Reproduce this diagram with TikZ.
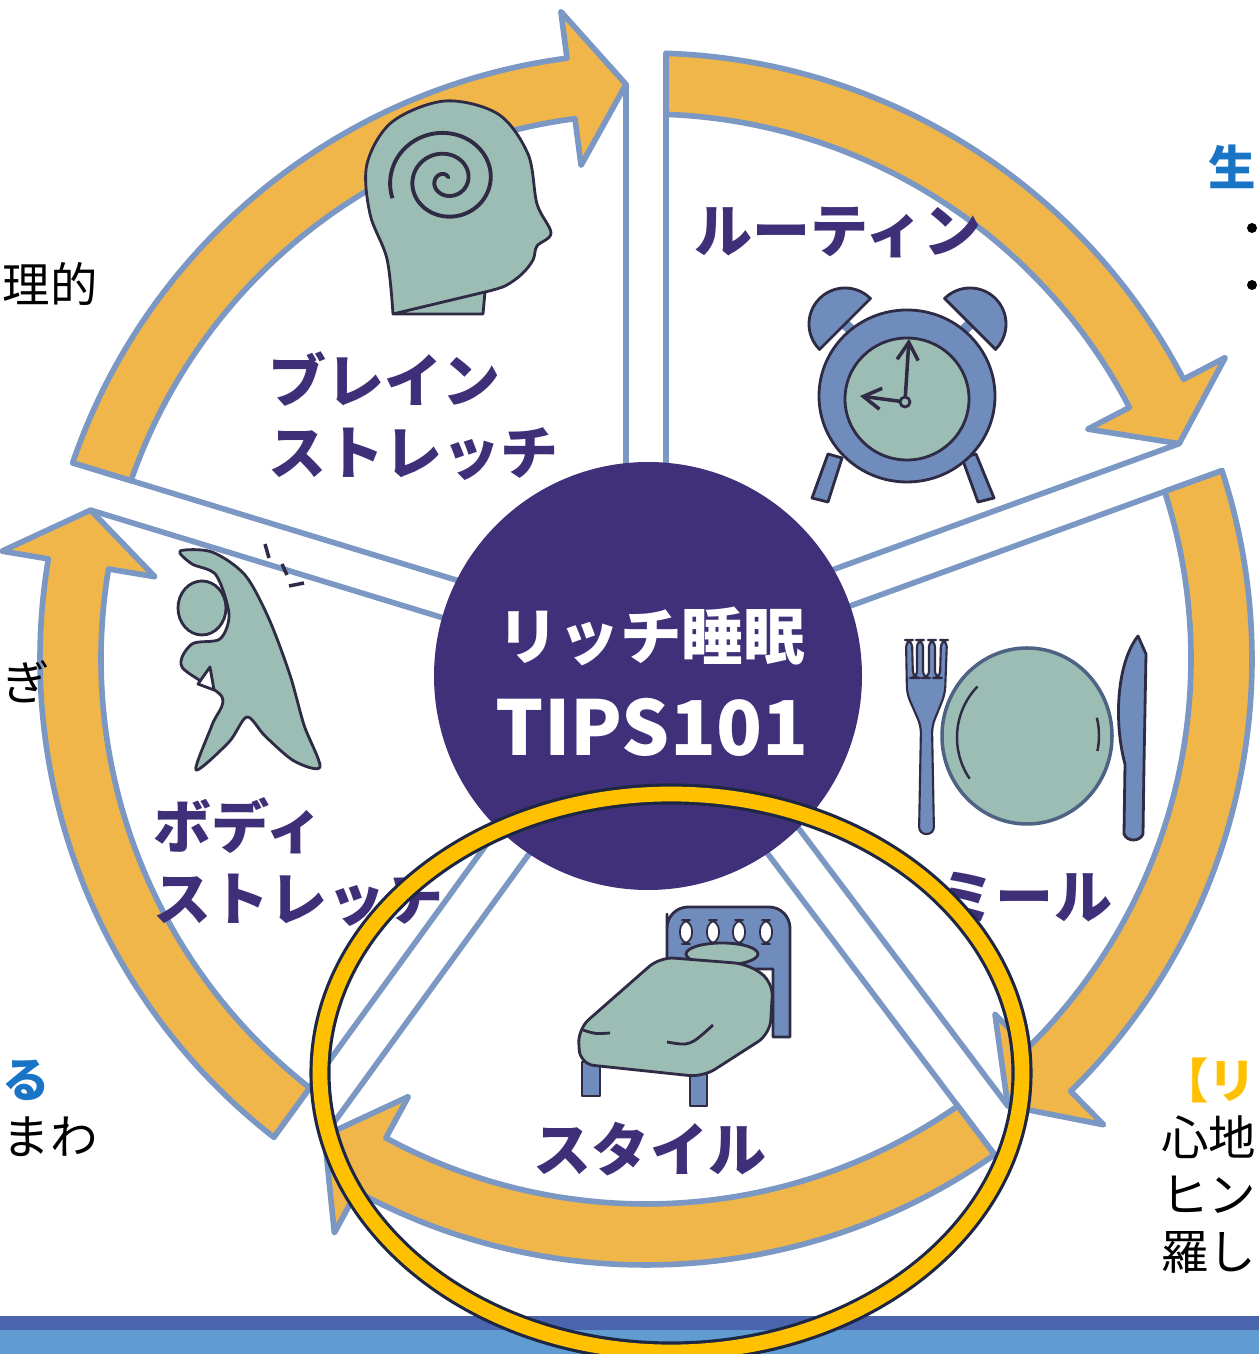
\documentclass[tikz,border=0pt]{standalone}
\usepackage{fontspec}
\newfontfamily\jp{Noto Sans CJK JP}
\usetikzlibrary{arrows.meta}

\definecolor{bandorange}{HTML}{F1B64A}
\definecolor{rimblue}{HTML}{7A98C3}
\definecolor{labelpurple}{HTML}{3E2F78}
\definecolor{hubpurple}{HTML}{40307A}
\definecolor{iconteal}{HTML}{9CBDB3}
\definecolor{iconblue}{HTML}{6F8CBD}
\definecolor{inkline}{HTML}{2F2B45}
\definecolor{ringyellow}{HTML}{FFC000}
\definecolor{ringnavy}{HTML}{1D2744}
\definecolor{textblue}{HTML}{1A74C6}
\definecolor{bardark}{HTML}{4A65AD}
\definecolor{barlight}{HTML}{609CD2}

\tikzset{
    spoke/.style={draw=rimblue, line width=1.6pt, line cap=round},
    band/.style={fill=bandorange, draw=rimblue, line width=1.6pt, line join=round},
    ink/.style={draw=inkline, line width=0.8pt, line join=round},
    segtext/.style={font=\jp\bfseries\fontsize{16.5}{20.5}\selectfont, text=labelpurple, inner sep=0pt, align=left},
    hubtext/.style={font=\jp\bfseries, text=white, inner sep=0pt},
    sidetext/.style={font=\jp\fontsize{13.5}{16}\selectfont, inner sep=0pt},
    sidehead/.style={font=\jp\bfseries\fontsize{13.5}{16}\selectfont, inner sep=0pt},
    ring/.style={draw=ringnavy, line width=0.9pt, double=ringyellow, double distance=4.2pt},
}

\begin{document}
\begin{tikzpicture}[x=0.01cm, y=0.01cm]
    \def\gap{20}
    \def\ri{545}
    \def\ro{606}
    \def\rmid{575}
    \def\hl{5.5}
    \path[use as bounding box, fill=white] (0,0) rectangle (1259,1354);
    \clip (0,0) rectangle (1259,1354);

    % wheel: five wedges, each with its arrow along the rim
    \begin{scope}[shift={(646,695)}]
      \foreach \a/\b in {163/90, 90/20, 20/-53, -53/-126, -126/-197} {
        \pgfmathsetmacro\ta{\a-asin(\gap/\ro)}
        \pgfmathsetmacro\tai{\a-asin(\gap/\ri)}
        \pgfmathsetmacro\tip{\b+asin(\gap/\rmid)}
        \pgfmathsetmacro\hb{\tip+\hl}
        \draw[spoke] ({\a-asin(\gap/150)}:150) -- (\ta:\ro);
        \draw[spoke] ({\b+asin(\gap/150)}:150) -- (\tip:\rmid);
        \filldraw[band] (\ta:\ro) arc[start angle=\ta, end angle=\hb, radius=\ro]
          -- (\hb:{\ro+47}) -- (\tip:\rmid) -- (\hb:{\ri-47}) -- (\hb:\ri)
          arc[start angle=\hb, end angle=\tai, radius=\ri] -- cycle;
      }
    \end{scope}

    % hub
    \fill[hubpurple] (648,678) circle[radius=214];
    \node[hubtext, font=\jp\bfseries\fontsize{17.5}{20}\selectfont] (hubtop) at (651,718) {リッチ睡眠};
    \node[hubtext, font=\jp\bfseries\fontsize{21.5}{24}\selectfont] (hubbottom) at (652,627) {TIPS101};

    % head with spiral
    \filldraw[ink, fill=iconteal] (393,1040) -- (483,1040) -- (485,1062)
      plot[smooth, tension=0.55] coordinates {(485,1062) (505,1068) (522,1080) (533,1094) (537,1108) (551,1121) (537,1150) (528,1200) (498,1240) (445,1253) (392,1232) (367,1190) (370,1140) (387,1095) (393,1040)} -- cycle;
    \draw[inkline, line width=1.1pt] plot[domain=40:920, samples=120, smooth] ({446+0.062*\x*cos(\x)}, {1174+0.058*\x*sin(\x)});
    \node[segtext, anchor=west] (brain) at (268,938) {ブレイン\\ストレッチ};

    % alarm clock
    \filldraw[ink, fill=iconblue] (828,900) -- (842,896) -- (828,852) -- (812,856) -- cycle;
    \filldraw[ink, fill=iconblue] (962,896) -- (976,900) -- (994,856) -- (978,852) -- cycle;
    \draw[iconblue, line width=3pt] (845,1030) -- (858,1017) (970,1030) -- (957,1017);
    \begin{scope}[shift={(845,1030)}, rotate=45]
      \filldraw[ink, fill=iconblue] (-36,0) arc[start angle=180, end angle=0, radius=36] -- cycle;
    \end{scope}
    \begin{scope}[shift={(970,1030)}, rotate=-45]
      \filldraw[ink, fill=iconblue] (-36,0) arc[start angle=180, end angle=0, radius=36] -- cycle;
    \end{scope}
    \filldraw[ink, fill=iconblue] (907,958) ellipse[x radius=88, y radius=86];
    \filldraw[ink, fill=iconteal] (907,955) ellipse[x radius=62, y radius=61];
    \draw[inkline, line width=1pt, -{Straight Barb[length=5pt, width=6pt]}] (905,952) -- (909,1015);
    \draw[inkline, line width=1pt, -{Straight Barb[length=5pt, width=6pt]}] (905,952) -- (860,958);
    \filldraw[ink, fill=iconteal] (905,952) circle[radius=5];
    \node[segtext] (routine) at (838,1121) {ルーティン};

    % fork, plate and knife
    \filldraw[ink, line width=0.6pt, fill=iconblue, rounded corners=2] (919,520) -- (921,628) -- (907,660) -- (906,714) -- (912,714) -- (913,676) -- (917,676) -- (917,714) -- (923,714) -- (923,676) -- (929,676) -- (929,714) -- (935,714) -- (935,676) -- (940,676) -- (941,714) -- (947,714) -- (945,660) -- (932,628) -- (934,520) -- cycle;
    \filldraw[draw=iconblue!70!black, line width=1pt, fill=iconteal] (1027,618) ellipse[x radius=85, y radius=88];
    \draw[inkline, line width=0.7pt] (1027,618) ++(135:70) arc[start angle=135, end angle=215, x radius=70, y radius=72];
    \draw[inkline, line width=0.7pt] (1027,618) ++(-12:72) arc[start angle=-12, end angle=14, x radius=72, y radius=74];
    \filldraw[ink, fill=iconblue] (1124,520) -- (1125,590) .. controls (1114,630) and (1116,690) .. (1138,718) -- (1146,700) -- (1144,590) -- (1143,520) .. controls (1140,512) and (1127,512) .. (1124,520) -- cycle;
    \node[segtext] (meal) at (1025,457) {ミール};

    % bed
    \filldraw[ink, fill=iconblue] (582,258) rectangle (600,292);
    \filldraw[ink, fill=iconblue] (690,248) rectangle (707,280);
    \filldraw[ink, fill=iconblue] (667,385) -- (667,440) [rounded corners=6] -- (667,447) -- (790,447) [sharp corners] -- (790,317) -- (773,317) -- (773,385) -- cycle;
    \foreach \sx in {680,707,733,760}
      \filldraw[draw=inkline, line width=0.5pt, fill=white, rounded corners=3] (\sx,410) rectangle (\sx+12,434);
    \filldraw[ink, fill=iconteal] (722,400) ellipse[x radius=36, y radius=11];
    \filldraw[ink, fill=iconteal, rounded corners=4] (660,397) -- (748,390) -- (773,372) -- (770,320) -- (703,277) -- (580,290) -- (578,325) -- cycle;
    \draw[inkline, line width=0.8pt] (583,324) .. controls (595,320) .. (610,321);
    \draw[inkline, line width=0.8pt] (667,312) .. controls (690,308) .. (713,329);
    \node[segtext] (style) at (650,205) {スタイル};

    % stretching figure
    \filldraw[ink, fill=iconteal] plot[smooth cycle, tension=0.5] coordinates {(180,803) (212,802) (245,779) (269,735) (290,679) (304,629) (320,587) (294,593) (265,618) (247,637) (229,612) (196,584) (212,629) (222,657) (182,687) (192,710) (220,715) (229,740) (216,779) (192,790)};
    \filldraw[ink, fill=iconteal] (202,746) ellipse[x radius=24, y radius=27];
    \filldraw[ink, fill=white] (198,670) -- (210,687) -- (214,664) -- cycle;
    \draw[inkline, line width=1pt] (265,810) -- (269,796) (282,790) -- (287,779) (289,768) -- (304,771);
    \node[segtext, anchor=west] (body) at (153,492) {ボディ\\ストレッチ};

    % text running in from the page on both sides
    \node[sidetext, anchor=west] (leftA) at (2,1070) {理的};
    \node[sidetext, anchor=west] (leftB) at (2,672) {ぎ};
    \node[sidehead, anchor=west, text=textblue] (leftC) at (2,274) {る};
    \node[sidetext, anchor=west] (leftD) at (2,217) {まわ};
    \node[sidehead, anchor=east, text=textblue] (rightA) at (1257,1187) {生};
    \fill (1252,1126) circle[radius=5];
    \fill (1252,1069) circle[radius=5];
    \node[sidehead, anchor=east, text=ringyellow] (rightB) at (1257,274) {【リ};
    \node[sidetext, anchor=east] (rightC) at (1257,217) {心地};
    \node[sidetext, anchor=east] (rightD) at (1257,159) {ヒン};
    \node[sidetext, anchor=east] (rightE) at (1257,102) {羅し};

    % footer bars
    \fill[barlight] (0,0) rectangle (1259,24);
    \fill[bardark] (0,24) rectangle (1259,38);

    % highlight ring
    \draw[ring] (671,281) ellipse[x radius=351, y radius=279];
\end{tikzpicture}
\end{document}
